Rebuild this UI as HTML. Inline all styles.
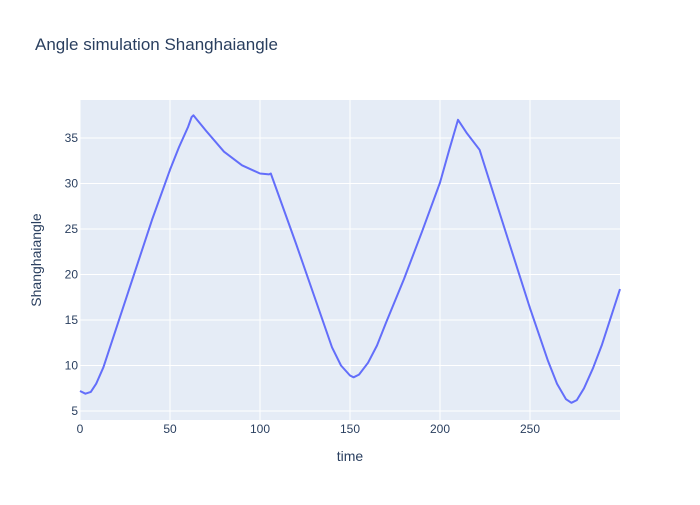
<!DOCTYPE html>
<html><head><meta charset="utf-8"><style>
body{margin:0;background:#fff;font-family:"Liberation Sans",sans-serif}
svg text{font-family:"Liberation Sans",sans-serif}
</style></head><body>
<svg id="chart" width="700" height="500">
<rect width="700" height="500" fill="#fff"/>
<text x="35" y="50" font-size="17" fill="#2a3f5f">Angle simulation Shanghaiangle</text>
<rect x="80" y="100" width="540" height="320" fill="#e5ecf6"/>
<g id="grid"></g>
<g id="ticks"></g>
<path id="line" fill="none" stroke="#636efa" stroke-width="2" stroke-linejoin="round"/>
<text x="350" y="461" font-size="14" fill="#2a3f5f" text-anchor="middle">time</text>
<text x="41" y="260" font-size="14" fill="#2a3f5f" text-anchor="middle" transform="rotate(-90 41 260)">Shanghaiangle</text>
</svg>
<script>
const xs=[0,3,6,9,13,20,30,40,50,55,60,62,63,65,70,80,90,100,105,106,110,120,130,140,145,150,152,155,160,165,170,180,190,200,205,210,215,222,230,240,250,260,265,270,273,276,280,285,290,300];
const ys=[7.2,6.9,7.1,8,9.8,14,20,26,31.5,34,36.2,37.3,37.5,37,35.8,33.5,32,31.1,31,31.1,28.9,23.4,17.7,12,10,8.9,8.7,9,10.3,12.2,14.7,19.5,24.7,30.1,33.6,37,35.5,33.7,28.7,22.5,16.3,10.5,8,6.3,5.9,6.2,7.5,9.7,12.3,18.4];
const xTicks=[0,50,100,150,200,250];
const yTicks=[5,10,15,20,25,30,35];
const X=v=>80+v*540/300;
const Y=v=>138-(v-35)*9.1;
const ns="http://www.w3.org/2000/svg";
const grid=document.getElementById('grid'),ticks=document.getElementById('ticks');
xTicks.forEach(t=>{
 const l=document.createElementNS(ns,'line');
 l.setAttribute('x1',X(t));l.setAttribute('x2',X(t));l.setAttribute('y1',100);l.setAttribute('y2',420);
 l.setAttribute('stroke','#fff');l.setAttribute('stroke-width',1);
 
 
 grid.appendChild(l);
 const tx=document.createElementNS(ns,'text');
 tx.setAttribute('x',X(t));tx.setAttribute('y',433);tx.setAttribute('text-anchor','middle');
 tx.setAttribute('font-size',12);tx.setAttribute('fill','#2a3f5f');tx.textContent=t;
 
 
 ticks.appendChild(tx);
});
yTicks.forEach(t=>{
 const l=document.createElementNS(ns,'line');
 l.setAttribute('x1',80);l.setAttribute('x2',620);l.setAttribute('y1',Y(t));l.setAttribute('y2',Y(t));
 l.setAttribute('stroke','#fff');l.setAttribute('stroke-width',1);
 
 
 grid.appendChild(l);
 const tx=document.createElementNS(ns,'text');
 tx.setAttribute('x',78);tx.setAttribute('y',Y(t)+4);tx.setAttribute('text-anchor','end');
 tx.setAttribute('font-size',12);tx.setAttribute('fill','#2a3f5f');tx.textContent=t;
 
 
 ticks.appendChild(tx);
});
document.getElementById('line').setAttribute('d',xs.map((x,i)=>(i?'L':'M')+X(x).toFixed(1)+','+Y(ys[i]).toFixed(1)).join(''));
</script>
</body></html>
